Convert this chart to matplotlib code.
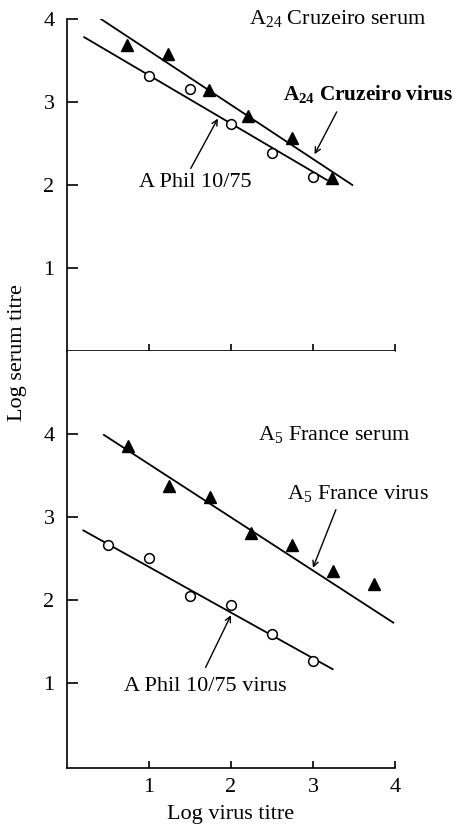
import matplotlib
matplotlib.use("Agg")
import matplotlib.pyplot as plt

plt.rcParams["font.family"] = ["Liberation Serif", "DejaVu Serif"]
plt.rcParams["mathtext.fontset"] = "custom"
plt.rcParams["mathtext.rm"] = "Liberation Serif"
plt.rcParams["mathtext.it"] = "Liberation Serif:italic"
plt.rcParams["mathtext.bf"] = "Liberation Serif:bold"

# Top panel: A24 Cruzeiro serum
top_tri_x = [0.73, 1.23, 1.73, 2.21, 2.74, 3.23]
top_tri_y = [3.69, 3.58, 3.14, 2.83, 2.57, 2.08]
top_circ_x = [1.0, 1.5, 2.0, 2.5, 3.0]
top_circ_y = [3.31, 3.16, 2.73, 2.39, 2.10]
top_tri_fit_x = [0.29, 3.48]
top_tri_fit_y = [4.08, 2.00]
top_circ_fit_x = [0.21, 3.17]
top_circ_fit_y = [3.78, 2.06]

# Bottom panel: A5 France serum
bot_tri_x = [0.75, 1.25, 1.75, 2.25, 2.75, 3.25, 3.75]
bot_tri_y = [3.86, 3.37, 3.24, 2.81, 2.66, 2.35, 2.19]
bot_circ_x = [0.5, 1.0, 1.5, 2.0, 2.5, 3.0]
bot_circ_y = [2.67, 2.51, 2.05, 1.94, 1.59, 1.27]
bot_tri_fit_x = [0.45, 3.98]
bot_tri_fit_y = [3.99, 1.73]
bot_circ_fit_x = [0.20, 3.24]
bot_circ_fit_y = [2.84, 1.17]

x_ticks = [1, 2, 3, 4]
y_ticks = [1, 2, 3, 4]

fig = plt.figure(figsize=(4.58, 8.27), dpi=100)
ax1 = fig.add_axes([0.1463, 0.5756, 0.716, 0.4015])
ax2 = fig.add_axes([0.1463, 0.0713, 0.716, 0.5043])

for ax in (ax1, ax2):
    ax.spines["top"].set_visible(False)
    ax.spines["right"].set_visible(False)
    ax.set_xlim(0, 4)
    ax.set_xticks(x_ticks)
    ax.set_yticks(y_ticks)
    ax.tick_params(axis="y", direction="in", length=8, width=1.2, labelsize=16, pad=9)
    ax.tick_params(axis="x", direction="in", length=5, width=1.2, labelsize=16, pad=7)
    ax.spines["left"].set_linewidth(1.2)
    ax.spines["bottom"].set_linewidth(1.2)

ax1.set_ylim(0, 4)
ax1.tick_params(axis="x", labelbottom=False)
ax2.set_ylim(-0.02, 5.0)

lw = 1.3
ax1.plot(top_tri_fit_x, top_tri_fit_y, color="black", lw=lw)
ax1.plot(top_circ_fit_x, top_circ_fit_y, color="black", lw=lw)
ax1.plot(top_tri_x, top_tri_y, "^", color="black", ms=8)
ax1.plot(top_circ_x, top_circ_y, "o", mfc="white", mec="black", mew=1.1, ms=7)

ax2.plot(bot_tri_fit_x, bot_tri_fit_y, color="black", lw=lw)
ax2.plot(bot_circ_fit_x, bot_circ_fit_y, color="black", lw=lw)
ax2.plot(bot_tri_x, bot_tri_y, "^", color="black", ms=8)
ax2.plot(bot_circ_x, bot_circ_y, "o", mfc="white", mec="black", mew=1.1, ms=7)

fs = 16
arrow = dict(arrowstyle="->", color="black", lw=1.0, shrinkA=0, shrinkB=0)

ax1.text(2.22, 4.0, "A$_{24}$ Cruzeiro serum", fontsize=fs, va="center", ha="left")
ax1.text(2.63, 3.10, "A$_{\\mathbf{24}}$ Cruzeiro virus", fontsize=15.3,
         fontweight="bold", va="center", ha="left")
ax1.annotate("", xy=(3.02, 2.37), xytext=(3.29, 2.88), arrowprops=arrow)
ax1.text(0.88, 2.03, "A Phil 10/75", fontsize=fs, va="center", ha="left")
ax1.annotate("", xy=(1.84, 2.80), xytext=(1.51, 2.20), arrowprops=arrow)

ax2.text(2.33, 4.00, "A$_5$ France serum", fontsize=fs, va="center", ha="left")
ax2.text(2.68, 3.29, "A$_5$ France virus", fontsize=fs, va="center", ha="left")
ax2.annotate("", xy=(3.0, 2.39), xytext=(3.28, 3.09), arrowprops=arrow)
ax2.text(0.70, 0.96, "A Phil 10/75 virus", fontsize=fs, va="center", ha="left")
ax2.annotate("", xy=(2.0, 1.82), xytext=(1.69, 1.19), arrowprops=arrow)

ax2.set_xlabel("Log virus titre", fontsize=16, labelpad=6)
fig.text(0.038, 0.574, "Log serum titre", rotation=90, fontsize=16,
         va="center", ha="center")

fig.savefig("out.png", dpi=100)
